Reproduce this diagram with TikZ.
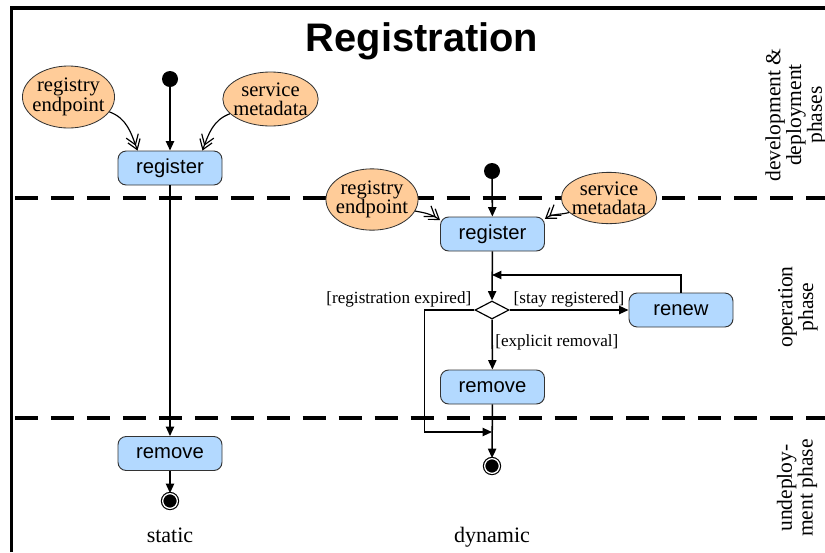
\documentclass[tikz,border=0pt]{standalone}
\usepackage{fontspec}
\setmainfont{Liberation Serif}
\setsansfont{Liberation Sans}
\usetikzlibrary{arrows.meta,shapes.geometric,calc}
\definecolor{actblue}{RGB}{179,217,255}
\definecolor{objpeach}{RGB}{255,204,153}
\tikzset{
 actbox/.style={draw=black!80, fill=actblue, rounded corners=7pt, line width=0.8pt, minimum width=3.12cm, minimum height=1.02cm, inner sep=0pt, font=\sffamily\fontsize{17.3}{19}\selectfont},
 objnode/.style={ellipse, draw=black!80, fill=objpeach, line width=0.7pt, inner xsep=-3pt, inner ysep=-3pt, minimum width=2.67cm, align=center, font=\fontsize{17.6}{16.5}\selectfont},
 startdot/.style={circle, fill=black, minimum size=0.48cm, inner sep=0pt},
 enddot/.style={circle, draw=black, fill=black, double=white, double distance=1.1pt, line width=1pt, minimum size=0.44cm, inner sep=0pt},
 decision/.style={diamond, draw=black, line width=1pt, fill=white, minimum width=1.02cm, minimum height=0.54cm, inner sep=0pt},
 flow/.style={line width=1.3pt, -{Triangle[length=8pt,width=7pt]}},
 objflow/.style={line width=1pt, -{Straight Barb[length=8pt,width=11pt,sep=-5pt]Straight Barb[length=8pt,width=11pt]}},
 guard/.style={font=\fontsize{14.6}{16}\selectfont, inner sep=2pt},
 phaseline/.style={line width=3.4pt, dash pattern=on 19.6pt off 11.1pt},
 phasetext/.style={rotate=90, align=center, font=\fontsize{18.4}{16}\selectfont},
 colname/.style={font=\fontsize{18.8}{20}\selectfont, anchor=base}
}
\begin{document}
\begin{tikzpicture}[x=0.03cm, y=-0.03cm]
 \useasboundingbox (0,0) rectangle (825,552);
 \draw[line width=2.6pt] (11.5,552) -- (11.5,8) -- (825,8);
 \node[font=\sffamily\bfseries\fontsize{34}{40}\selectfont, anchor=base] (title) at (422,51) {Registration};
%
 \draw[phaseline] (15,198) -- (825,198);
 \draw[phaseline] (15,418) -- (825,418);
 \node[phasetext] (dev) at (796,115) {development \&\\deployment\\phases};
 \node[phasetext] (op) at (798,307) {operation\\phase};
 \node[phasetext] (undep) at (797,488) {undeploy-\\ment phase};
%
 \node[startdot] (s1) at (170,79) {};
 \node[actbox] (reg1) at (170,168) {register};
 \node[objnode, minimum height=1.86cm] (ep1) at (68.5,97) {registry\\endpoint};
 \node[objnode, minimum height=1.62cm] (sm1) at (270.5,99) {service\\metadata};
 \node[actbox] (rem1) at (170,453.5) {remove};
 \node[enddot] (e1) at (170,501) {};
 \node[colname] (static) at (170,542) {static};
%
 \draw[flow] (s1) -- (reg1);
 \draw[objflow] (ep1.-20) to[out=-20,in=110] ([xshift=0.6cm]reg1.north west);
 \draw[objflow] (sm1.-160) to[out=-160,in=70] ([xshift=-0.6cm]reg1.north east);
 \draw[flow] (reg1) -- (rem1);
 \draw[flow] (rem1) -- (e1);
%
 \node[startdot] (s2) at (492,171) {};
 \node[actbox] (reg2) at (492.5,234) {register};
 \node[objnode, minimum height=1.84cm] (ep2) at (372,199.5) {registry\\endpoint};
 \node[objnode, minimum height=1.54cm] (sm2) at (609,198) {service\\metadata};
 \node[decision] (dec) at (492,310) {};
 \node[actbox] (renew) at (681,310) {renew};
 \node[actbox] (rem2) at (492.5,387) {remove};
 \node[enddot] (e2) at (492,466) {};
 \node[colname] (dynamic) at (492,542) {dynamic};
 \coordinate (back) at (492,275);
 \coordinate (merge) at (492,432);
%
 \draw[flow] (s2) -- (reg2);
 \draw[objflow] (ep2.-15) to[out=-10,in=145] ([yshift=-3pt]reg2.north west);
 \draw[objflow] (sm2.-160) to[out=-165,in=35] ([yshift=-2pt]reg2.north east);
 \draw[flow] (reg2) -- (dec);
 \draw[flow] (dec) -- node[guard, above] {[stay registered]} (renew);
 \draw[flow] (renew.north) |- (back);
 \draw[flow] (dec) -- node[guard, right, pos=0.45] {[explicit removal]} (rem2);
 \draw[flow] (dec.west) node[guard, above left] {[registration expired]} -- ++(-50,0) |- (merge);
 \draw[flow] (rem2) -- (e2);
\end{tikzpicture}
\end{document}
